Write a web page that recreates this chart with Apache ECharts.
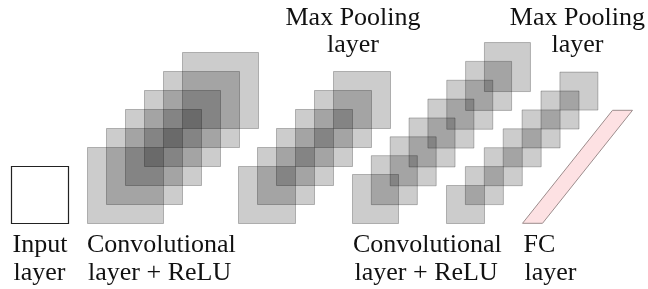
<!DOCTYPE html>
<html>
	<head>
		<meta charset="utf-8">
		<title>CNN layers</title>
		<script src="https://cdn.jsdelivr.net/npm/echarts@6/dist/echarts.min.js"></script>
		<style>
			html, body { margin: 0; padding: 0; background: #fff; }
			#chart { width: 648px; height: 289px; }
		</style>
	</head>
	<body>
		<div id="chart"></div>
		<script>
			// layers of the network, left to right (the FC layer is drawn on its own)
			var layerLabels = [
				['Input', 'layer'],
				['Convolutional', 'layer + ReLU'],
				['Max Pooling', 'layer'],
				['Convolutional', 'layer + ReLU'],
				['Max Pooling', 'layer'],
				['FC', 'layer']
			];
			var mapCounts = [1, 6, 6, 8, 7];          // feature maps per layer
			var mapWidths = [57, 76, 57, 46, 38];
			var mapHeights = [57, 76, 57, 49, 38];
			var firstMapX = [11.5, 87.5, 238.5, 352.5, 446.5];
			var mapSteps = [0, 19, 19, 18.85, 18.9];
			var baseY = 223.5;
			// FC layer: bottom left x, width, run and rise of the slanted band
			var fcLayer = [522.5, 20, 90, 113];

			var mapData = [];
			for (var l = 0; l < mapCounts.length; l++) {
				for (var i = 0; i < mapCounts[l]; i++) {
					mapData.push([firstMapX[l] + i * mapSteps[l], baseY - i * mapSteps[l], l]);
				}
			}

			// where each label sits: x, align, top line (true) or bottom
			var labelPlaces = [
				[12.5, 'left', false],
				[87, 'left', false],
				[353, 'center', true],
				[353, 'left', false],
				[577.4, 'center', true],
				[523.5, 'left', false]
			];
			var graphics = [];
			labelLayers();

			function labelLayers() {
				for (var k = 0; k < layerLabels.length; k++) {
					var place = labelPlaces[k];
					var base = place[2] ? 26.7 : 254.2;
					for (var j = 0; j < layerLabels[k].length; j++) {
						var x = place[0];
						if (k == 0 && j == 1) x += 1;
						if (k == 1 && j == 1) x += 1;
						if (k == 3 && j == 1) x += 1.5;
						if (k == 5 && j == 1) x += 1;
						graphics.push({
							type: 'text',
							x: x,
							y: base + j * 27.4 - 8.8,
							style: {
								text: layerLabels[k][j],
								font: '26px "Liberation Serif", "Times New Roman", serif',
								fill: '#111',
								textAlign: place[1],
								textVerticalAlign: 'middle'
							}
						});
					}
				}
			}

			var chart = echarts.init(document.getElementById('chart'));
			var option = {
				animation: false,
				grid: { left: 0, right: 0, top: 0, bottom: 0 },
				xAxis: { type: 'value', min: 0, max: 648, show: false },
				yAxis: { type: 'value', min: 0, max: 289, inverse: true, show: false },
				series: [{
					type: 'custom',
					clip: false,
					encode: { x: 0, y: 1 },
					data: mapData,
					renderItem: function(params, api) {
						var l = api.value(2);
						var p = api.coord([api.value(0), api.value(1)]);
						var s = api.size([mapWidths[l], mapHeights[l]]);
						var w = Math.abs(s[0]), h = Math.abs(s[1]);
						var input = l == 0;
						return {
							type: 'rect',
							shape: { x: p[0], y: p[1] - h, width: w, height: h },
							style: {
								fill: input ? '#fff' : 'rgba(0,0,0,0.2)',
								stroke: input ? '#222' : 'rgba(0,0,0,0.25)',
								lineWidth: input ? 1.2 : 1
							}
						};
					}
				}, {
					type: 'custom',
					clip: false,
					encode: { x: 0, y: 1 },
					data: [fcLayer],
					renderItem: function(params, api) {
						var x0 = api.value(0), w = api.value(1), run = api.value(2), rise = api.value(3);
						var pts = [
							api.coord([x0, baseY - 0.2]),
							api.coord([x0 + w, baseY - 0.2]),
							api.coord([x0 + w + run, baseY - 0.2 - rise]),
							api.coord([x0 + run, baseY - 0.2 - rise])
						];
						return {
							type: 'polygon',
							shape: { points: pts },
							style: { fill: '#fde1e3', stroke: '#9c8c8c', lineWidth: 1 }
						};
					}
				}],
				graphic: graphics
			};
			chart.setOption(option);
		</script>
	</body>
</html>
